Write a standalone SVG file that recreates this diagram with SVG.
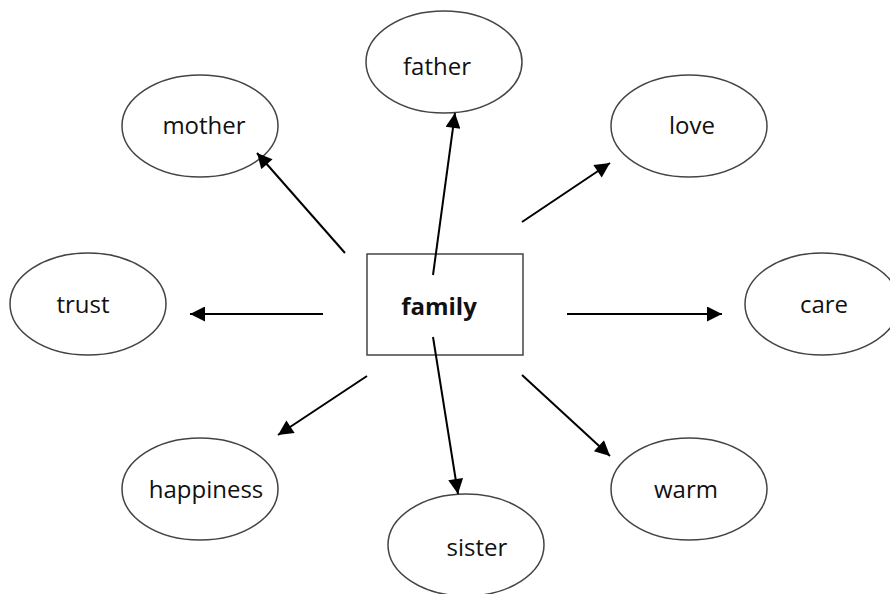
<svg xmlns="http://www.w3.org/2000/svg" width="890" height="594" viewBox="0 0 890 594">
<defs>
<style>
.n ellipse{fill:#fff;stroke:#444;stroke-width:1.5}
.n rect{fill:#fff;stroke:#444;stroke-width:1.5}
.n text{font-family:"Open Sans","Liberation Sans",sans-serif;font-size:24px;fill:#111;text-anchor:middle}
.c line{stroke:#000;stroke-width:2;marker-end:url(#ah)}
</style>
<marker id="ah" viewBox="0 0 10 10" refX="10" refY="5" markerWidth="8.5" markerHeight="7.5" markerUnits="strokeWidth" orient="auto">
<path d="M0,0 L10,5 L0,10 Z" fill="#000"/>
</marker>
</defs>
<rect width="890" height="594" fill="#fff"/>
<g id="family" class="n">
<rect x="367" y="254" width="156" height="101"/>
<text x="439" y="315" font-weight="bold">family</text>
</g>
<g id="father" class="n"><ellipse cx="444" cy="62" rx="78" ry="51"/><text x="437" y="75">father</text></g>
<g id="mother" class="n"><ellipse cx="200" cy="126" rx="78" ry="51"/><text x="204" y="134">mother</text></g>
<g id="love" class="n"><ellipse cx="689" cy="126" rx="78" ry="51"/><text x="692" y="134">love</text></g>
<g id="trust" class="n"><ellipse cx="88" cy="304" rx="78" ry="51"/><text x="83" y="313">trust</text></g>
<g id="care" class="n"><ellipse cx="822" cy="304" rx="77" ry="51"/><text x="824" y="313">care</text></g>
<g id="happiness" class="n"><ellipse cx="200" cy="489" rx="78" ry="51"/><text x="206" y="498">happiness</text></g>
<g id="sister" class="n"><ellipse cx="466" cy="545" rx="78" ry="51"/><text x="477" y="556">sister</text></g>
<g id="warm" class="n"><ellipse cx="689" cy="489" rx="78" ry="51"/><text x="686" y="498">warm</text></g>
<g id="connectors" class="c">
<line x1="433" y1="275" x2="455" y2="113"/>
<line x1="345" y1="253" x2="257" y2="153"/>
<line x1="522" y1="222" x2="610" y2="163"/>
<line x1="323" y1="314" x2="190" y2="314"/>
<line x1="567" y1="314" x2="722" y2="314"/>
<line x1="367" y1="376" x2="278" y2="435"/>
<line x1="433" y1="337" x2="458" y2="494"/>
<line x1="522" y1="375" x2="610" y2="456"/>
</g>
</svg>
